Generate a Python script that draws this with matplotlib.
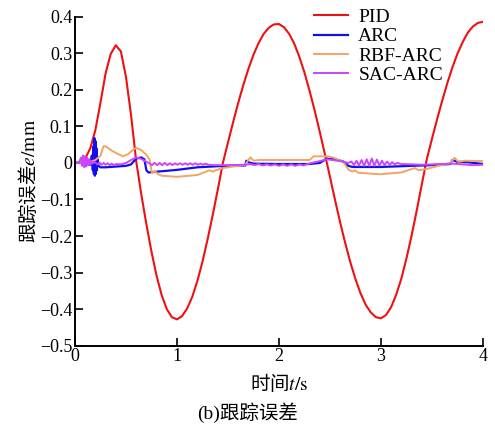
import matplotlib
matplotlib.use("Agg")
import matplotlib.pyplot as plt

plt.rcParams['font.family'] = ['Liberation Serif', 'Noto Sans CJK SC']
plt.rcParams['mathtext.fontset'] = 'stix'
plt.rcParams['axes.unicode_minus'] = True

# ---------------- data ----------------
pid_t = [i * 0.05 for i in range(81)]
pid_e = [0.000, 0.003, 0.012, 0.040, 0.090, 0.165, 0.245, 0.298, 0.322, 0.305,
         0.235, 0.130, 0.005, -0.086, -0.168, -0.243, -0.309, -0.362, -0.400, -0.422,
         -0.428, -0.419, -0.398, -0.366, -0.323, -0.270, -0.209, -0.143, -0.073, 0.000,
         0.056, 0.111, 0.164, 0.213, 0.257, 0.296, 0.328, 0.353, 0.370, 0.379,
         0.380, 0.371, 0.353, 0.326, 0.290, 0.247, 0.197, 0.143, 0.085, 0.024,
         -0.038, -0.102, -0.163, -0.220, -0.272, -0.318, -0.357, -0.388, -0.409, -0.422,
         -0.425, -0.416, -0.394, -0.360, -0.316, -0.261, -0.199, -0.131, -0.059, 0.011,
         0.066, 0.119, 0.170, 0.218, 0.261, 0.299, 0.330, 0.356, 0.373, 0.383, 0.386]

arc_t = [0, 0.1, 0.15, 0.165, 0.175, 0.18, 0.185, 0.19, 0.195, 0.2, 0.205, 0.21, 0.215, 0.22,
         0.23, 0.25, 0.3, 0.4, 0.5, 0.55, 0.6, 0.65, 0.68, 0.7, 0.72, 0.8, 1.0, 1.2, 1.4, 1.6,
         1.67, 1.68, 1.7, 1.75, 2.0, 2.3, 2.4, 2.47, 2.55, 2.63, 2.68, 2.72, 3.0, 3.3, 3.5,
         3.68, 3.70, 3.75, 3.85, 4.0]
arc_e = [0, 0.0, -0.005, 0.02, -0.02, 0.045, -0.03, 0.068, -0.035, 0.06, -0.03, 0.04, -0.02, 0.01,
         -0.008, -0.012, -0.012, -0.010, -0.008, -0.004, 0.012, 0.015, 0.010, -0.020, -0.026,
         -0.024, -0.019, -0.012, -0.009, -0.007, -0.007, 0.006, 0.002, -0.002, -0.003, -0.003,
         0.0, 0.012, 0.010, 0.004, -0.008, -0.011, -0.011, -0.008, -0.006, -0.003, 0.008, 0.003,
         0.002, -0.003]

rbf_t = [0, 0.15, 0.2, 0.25, 0.28, 0.3, 0.37, 0.47, 0.52, 0.57, 0.6, 0.65, 0.70, 0.73, 0.755,
         0.785, 0.81, 0.85, 1.0, 1.2, 1.32, 1.35, 1.38, 1.45, 1.55, 1.67, 1.7, 1.72, 1.75, 1.8,
         2.0, 2.3, 2.34, 2.47, 2.53, 2.63, 2.68, 2.72, 2.74, 2.78, 2.99, 3.2, 3.33, 3.37, 3.44,
         3.55, 3.68, 3.72, 3.76, 3.82, 4.0]
rbf_e = [0, 0.003, 0.008, 0.02, 0.046, 0.045, 0.032, 0.018, 0.024, 0.036, 0.041, 0.035, 0.022,
         0.010, -0.028, -0.022, -0.030, -0.035, -0.038, -0.033, -0.020, -0.024, -0.020, -0.014,
         -0.010, -0.005, 0.008, 0.015, 0.006, 0.008, 0.008, 0.008, 0.018, 0.018, 0.015, 0.003,
         -0.018, -0.024, -0.020, -0.027, -0.031, -0.026, -0.014, -0.020, -0.017, -0.009, 0.000,
         0.014, 0.003, 0.006, 0.005]

sac_t = [0.00, 0.04, 0.06, 0.07, 0.08, 0.09, 0.10, 0.11, 0.12, 0.13, 0.14, 0.15, 0.16, 0.17, 0.19,
         0.22, 0.24, 0.26, 0.28, 0.30, 0.32, 0.34, 0.36, 0.38, 0.40, 0.45, 0.50, 0.55, 0.60, 0.65, 0.70,
         0.73, 0.755, 0.78, 0.805, 0.83, 0.855, 0.88, 0.905, 0.93, 0.955, 0.98, 1.005, 1.03, 1.055,
         1.08, 1.105, 1.13, 1.155, 1.18, 1.205, 1.23, 1.255, 1.28, 1.31,
         1.36, 1.50, 1.67, 1.72, 1.76, 1.80, 1.84, 1.88, 1.92, 1.96, 2.00, 2.04, 2.08, 2.12, 2.16,
         2.20, 2.24, 2.28, 2.32, 2.40, 2.47, 2.55, 2.62, 2.68,
         2.71, 2.735, 2.76, 2.785, 2.81, 2.835, 2.86, 2.885, 2.91, 2.935, 2.96, 2.985, 3.01, 3.035,
         3.06, 3.085, 3.11, 3.135, 3.16, 3.2, 3.3, 3.4, 3.5, 3.6, 3.7, 3.8, 3.9, 4.0]
sac_e = [0.000, 0.002, 0.015, -0.008, 0.020, -0.012, 0.018, -0.010, 0.014, -0.006, 0.010, -0.004,
         0.006, -0.002, 0.003,
         -0.004, 0.001, -0.005, 0.000, -0.005, -0.001, -0.006, -0.002, -0.006, -0.003,
         -0.004, 0.000, 0.008, 0.015, 0.011, 0.003,
         -0.001, -0.006, 0.000, -0.006, 0.000, -0.006, 0.000, -0.006, -0.001, -0.006, -0.001, -0.005,
         -0.001, -0.005, -0.001, -0.005, -0.001, -0.005, -0.001, -0.005, -0.002, -0.005, -0.002, -0.005,
         -0.006, -0.006, -0.005,
         -0.003, -0.006, -0.003, -0.007, -0.004, -0.007, -0.004, -0.008, -0.004, -0.008, -0.004, -0.008,
         -0.004, -0.007, -0.003,
         0.000, 0.005, 0.010, 0.007, 0.004, 0.000,
         0.004, -0.006, 0.006, -0.007, 0.008, -0.008, 0.010, -0.008, 0.012, -0.008, 0.009, -0.007,
         0.006, -0.006, 0.004, -0.005, 0.002, -0.004, 0.000,
         -0.003, -0.004, -0.005, -0.004, -0.003, -0.002, -0.004, -0.006, -0.005]

labels = ['PID', 'ARC', 'RBF-ARC', 'SAC-ARC']
colors = ['#EE1111', '#1010EE', '#F4A460', '#CC44FF']
x_ticks = [0, 1, 2, 3, 4]
y_ticks = [0.4, 0.3, 0.2, 0.1, 0, -0.1, -0.2, -0.3, -0.4, -0.5]

# ---------------- figure ----------------
fig = plt.figure(figsize=(4.95, 4.32), dpi=100)
ax = fig.add_axes([0.1515, 0.1998, 0.8242, 0.7615])

series = [(pid_t, pid_e), (arc_t, arc_e), (rbf_t, rbf_e), (sac_t, sac_e)]
lws = [1.5, 1.6, 1.4, 1.4]
for (t, e), lab, c, lw in zip(series, labels, colors, lws):
    ax.plot(t, e, color=c, lw=lw, label=lab)

ax.set_xlim(0, 4)
ax.set_ylim(-0.5, 0.4)
ax.set_xticks(x_ticks)
ax.set_yticks(y_ticks)
ax.set_yticklabels(['0' if v == 0 else f'{v:.1f}'.replace('-', '\u2212') for v in y_ticks])
ax.tick_params(direction='in', length=5.5, width=1.2, labelsize=13, pad=2)
for s in ['top', 'right']:
    ax.spines[s].set_visible(False)
for s in ['left', 'bottom']:
    ax.spines[s].set_linewidth(1.4)

ax.set_xlabel(r'时间$t/\mathrm{s}$', fontsize=14, labelpad=5, family='Noto Sans CJK SC')
ax.set_ylabel(r'跟踪误差$e/\mathrm{mm}$', fontsize=14, labelpad=0, family='Noto Sans CJK SC')

leg = ax.legend(loc='upper right', bbox_to_anchor=(0.945, 1.078), frameon=False,
                fontsize=14, handlelength=1.75, handletextpad=0.55, labelspacing=0.08)

fig.text(0.5, 0.045, '(b)跟踪误差', ha='center', va='center', fontsize=14)

fig.savefig('out.png', dpi=100)
